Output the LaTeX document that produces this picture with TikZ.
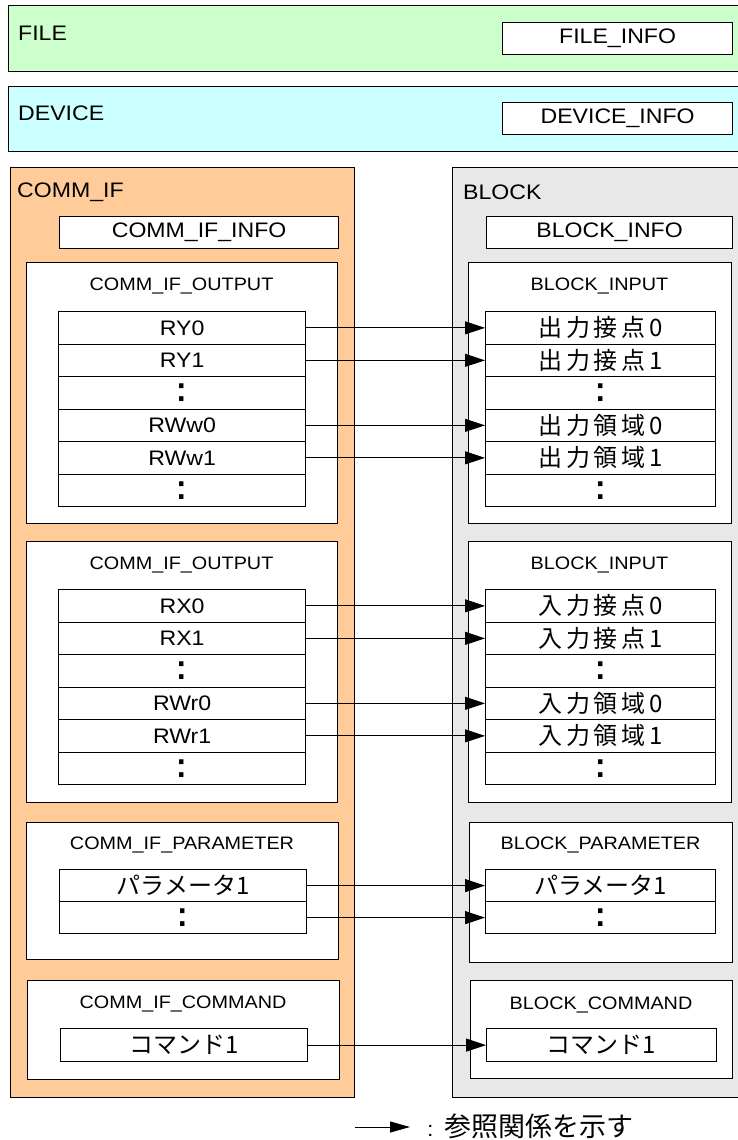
\documentclass[tikz,border=0pt]{standalone}
\usepackage{fontspec}
\setmainfont{Liberation Sans}[FakeStretch=1.1]
\newfontfamily\jpfam{Noto Sans CJK JP}
\newfontfamily\jpwfam{Noto Sans CJK JP}[LetterSpace=15]
\usetikzlibrary{arrows.meta}
\definecolor{filegreen}{HTML}{CCFFCC}
\definecolor{devcyan}{HTML}{CCFFFF}
\definecolor{commorange}{HTML}{FFCC99}
\definecolor{blockgray}{HTML}{E8E8E8}
\newcommand{\bigf}{\fontsize{21}{24}\selectfont}
\newcommand{\smallf}{\fontsize{18}{21}\selectfont}
\newcommand{\jpk}[1]{{\jpwfam\fontsize{24}{26}\selectfont #1}}
\newcommand{\jpn}[1]{{\jpfam\fontsize{24}{26}\selectfont #1}}
\newcommand{\dotsrow}{{\bfseries\fontsize{26}{26}\selectfont\raisebox{-3pt}{\scalebox{1.1}[1.35]{:}}}}
\begin{document}
\begin{tikzpicture}[x=1pt,y=-1pt,
  frame/.style={draw=black, line width=1.2pt, inner sep=0pt, anchor=north west},
  info/.style={frame, fill=white, font=\bigf},
  rowL/.style={draw=black, line width=1.2pt, fill=white, minimum width=247pt, minimum height=32.5pt, inner sep=0pt, anchor=north west, font=\bigf},
  rowR/.style={rowL, minimum width=230pt},
  title/.style={anchor=west, inner sep=0pt, font=\bigf},
  sub/.style={inner sep=0pt, font=\smallf},
  ref/.style={line width=1pt, -{Triangle[length=20pt,width=13pt]}},
]
\useasboundingbox (0,0) rectangle (738,1140);
\fill[white] (0,0) rectangle (738,1140);

% top boxes
\node[frame, fill=filegreen, minimum width=740pt, minimum height=66pt] (file) at (8,5) {};
\node[title] (filet) at (18,33) {FILE};
\node[info, minimum width=230pt, minimum height=32pt] (fileinfo) at (502,22) {FILE\_INFO};
\node[frame, fill=devcyan, minimum width=740pt, minimum height=65pt] (dev) at (8,86) {};
\node[title] (devt) at (18,113) {DEVICE};
\node[info, minimum width=230pt, minimum height=32pt] (devinfo) at (502,102) {DEVICE\_INFO};

% COMM_IF column
\node[frame, fill=commorange, minimum width=344pt, minimum height=930pt] (comm) at (10,167) {};
\node[title] (commt) at (17,192) {COMM\_IF};
\node[info, minimum width=279pt, minimum height=32pt] (comminfo) at (59,216) {COMM\_IF\_INFO};
\node[frame, fill=white, minimum width=311pt, minimum height=261pt] (cout1) at (26,262) {};
\node[sub] (cout1t) at (181.5,286) {COMM\_IF\_OUTPUT};
\node[frame, fill=white, minimum width=311pt, minimum height=261pt] (cout2) at (26,541) {};
\node[sub] (cout2t) at (181.5,565) {COMM\_IF\_OUTPUT};
\node[frame, fill=white, minimum width=312pt, minimum height=137pt] (cpar) at (26,822) {};
\node[sub] (cpart) at (182,845) {COMM\_IF\_PARAMETER};
\node[frame, fill=white, minimum width=312pt, minimum height=99pt] (ccmd) at (27,980) {};
\node[sub] (ccmdt) at (183,1004) {COMM\_IF\_COMMAND};

% BLOCK column
\node[frame, fill=blockgray, minimum width=295pt, minimum height=930pt] (blk) at (452,167) {};
\node[title] (blkt) at (463,192) {BLOCK};
\node[info, minimum width=246pt, minimum height=32pt] (blkinfo) at (486,216) {BLOCK\_INFO};
\node[frame, fill=white, minimum width=263pt, minimum height=261pt] (bin1) at (468,262) {};
\node[sub] (bin1t) at (599.5,286) {BLOCK\_INPUT};
\node[frame, fill=white, minimum width=263pt, minimum height=261pt] (bin2) at (468,541) {};
\node[sub] (bin2t) at (599.5,565) {BLOCK\_INPUT};
\node[frame, fill=white, minimum width=263pt, minimum height=140pt] (bpar) at (469,822) {};
\node[sub] (bpart) at (600.5,845) {BLOCK\_PARAMETER};
\node[frame, fill=white, minimum width=262pt, minimum height=98pt] (bcmd) at (470,980) {};
\node[sub] (bcmdt) at (601,1005) {BLOCK\_COMMAND};

% rows, group 1
\node[rowL] (l10) at (58,311)   {RY0};
\node[rowL] (l11) at (58,343.5) {RY1};
\node[rowL] (l12) at (58,376)   {\dotsrow};
\node[rowL] (l13) at (58,408.5) {RWw0};
\node[rowL] (l14) at (58,441)   {RWw1};
\node[rowL] (l15) at (58,473.5) {\dotsrow};
\node[rowR] (r10) at (485,311)   {\jpk{出力接点0}};
\node[rowR] (r11) at (485,343.5) {\jpk{出力接点1}};
\node[rowR] (r12) at (485,376)   {\dotsrow};
\node[rowR] (r13) at (485,408.5) {\jpk{出力領域0}};
\node[rowR] (r14) at (485,441)   {\jpk{出力領域1}};
\node[rowR] (r15) at (485,473.5) {\dotsrow};

% rows, group 2
\node[rowL] (l20) at (58,589)   {RX0};
\node[rowL] (l21) at (58,621.5) {RX1};
\node[rowL] (l22) at (58,654)   {\dotsrow};
\node[rowL] (l23) at (58,686.5) {RWr0};
\node[rowL] (l24) at (58,719)   {RWr1};
\node[rowL] (l25) at (58,751.5) {\dotsrow};
\node[rowR] (r20) at (485,589)   {\jpk{入力接点0}};
\node[rowR] (r21) at (485,621.5) {\jpk{入力接点1}};
\node[rowR] (r22) at (485,654)   {\dotsrow};
\node[rowR] (r23) at (485,686.5) {\jpk{入力領域0}};
\node[rowR] (r24) at (485,719)   {\jpk{入力領域1}};
\node[rowR] (r25) at (485,751.5) {\dotsrow};

% parameter rows
\node[rowL, minimum height=32pt] (lp0) at (59,869) {\jpn{パラメータ1}};
\node[rowL, minimum height=32pt] (lp1) at (59,901) {\dotsrow};
\node[rowR, minimum height=32pt] (rp0) at (485,869) {\jpn{パラメータ1}};
\node[rowR, minimum height=32pt] (rp1) at (485,901) {\dotsrow};

% command rows
\node[rowL, minimum height=33pt] (lc0) at (60,1028) {\jpn{コマンド1}};
\node[rowR, minimum height=33pt] (rc0) at (486,1028) {\jpn{コマンド1}};

% references
\foreach \g in {1,2}{
  \foreach \i in {0,1,3,4}{
    \draw[ref] (l\g\i.east) -- (r\g\i.west);
  }
}
\draw[ref] (lp0.east) -- (rp0.west);
\draw[ref] (lp1.east) -- (rp1.west);
\draw[ref] (lc0.east) -- (rc0.west);

% legend
\coordinate (lgA) at (355,1127);
\coordinate (lgB) at (410,1127);
\draw[line width=1pt, -{Triangle[length=20pt,width=11pt]}] (lgA) -- (lgB);
\node[anchor=west, inner sep=0pt] (lgt) at (427,1126) {{\bigf :}\hspace{11pt}{\jpfam\fontsize{27}{29}\selectfont 参照関係を示す}};
\end{tikzpicture}
\end{document}
